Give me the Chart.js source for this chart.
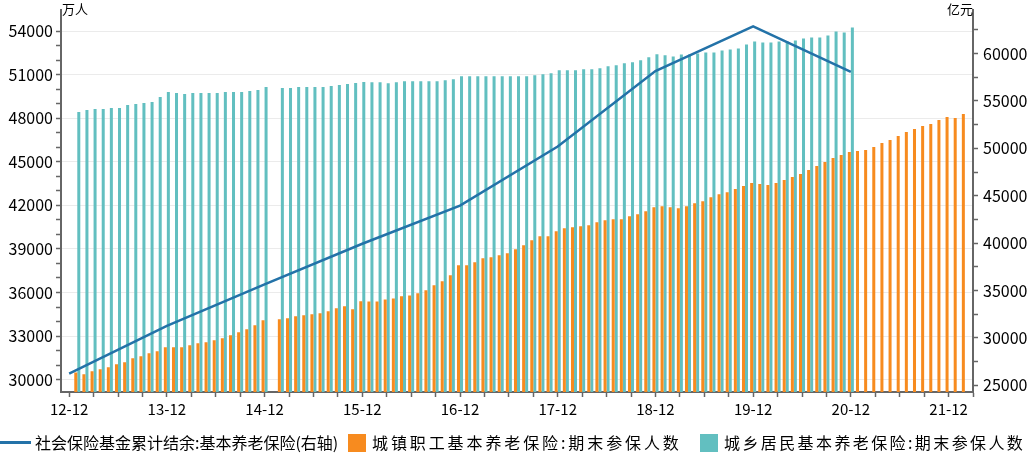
<!DOCTYPE html>
<html>
<head>
<meta charset="utf-8">
<script src="https://cdn.jsdelivr.net/npm/chart.js@4.4.1/dist/chart.umd.min.js"></script>
<style>
  html, body { margin: 0; padding: 0; background: #fff; }
  #wrap { position: relative; width: 1034px; height: 458px; font-family: "Noto Sans CJK SC", "Noto Sans", sans-serif; color: #000; }
  #chart { position: absolute; left: 0; top: 0; }
  .unit { position: absolute; top: 1px; font-size: 13px; line-height: 16px; }
  .item { position: absolute; top: 432px; font-size: 16px; line-height: 20px; white-space: nowrap; }
  .swatch { position: absolute; top: 434px; width: 18px; height: 18px; }
</style>
</head>
<body>
<div id="wrap">
  <canvas id="chart" width="1034" height="458"></canvas>
  <div class="unit" style="left:62px">万人</div>
  <div class="unit" style="left:947px">亿元</div>

  <div style="position:absolute; left:0; top:441px; width:31px; height:2.5px; background:#2372a8"></div>
  <div class="item" style="left:35px">社会保险基金累计结余:基本养老保险(右轴)</div>
  <div class="swatch" style="left:348px; background:#f78b1f"></div>
  <div class="item" style="left:372px; letter-spacing:2.9px">城镇职工基本养老保险:期末参保人数</div>
  <div class="swatch" style="left:700px; background:#62bfc0"></div>
  <div class="item" style="left:724px; letter-spacing:2.4px">城乡居民基本养老保险:期末参保人数</div>
</div>

<script>
// month axis runs 12-11 .. 22-03, bars start at 13-01
const firstMonth = [2012, 11];
const lastMonth = [2022, 3];
const seriesStart = '13-01';

// 社会保险基金累计结余:基本养老保险 (亿元, right axis), year-end points
const fundMonths = ['12-12', '13-12', '14-12', '15-12', '16-12', '17-12', '18-12', '19-12', '20-12'];
const fundBalance = [26243, 31275, 35645, 39937, 43965, 50202, 58152, 62873, 58075];

// 城镇职工基本养老保险:期末参保人数 (万人), monthly from 13-01, null = no data
const staffMembers = [
  30488, 30371, 30577, 30715, 30852, 31059, 31197, 31472, 31610, 31816, 31954, 32229, // 2013
  32229, 32229, 32367, 32505, 32573, 32711, 32849, 33055, 33262, 33468, 33743, 34087, // 2014
  null, 34156, 34225, 34362, 34431, 34500, 34569, 34707, 34913, 35051, 34844, 35390,  // 2015
  35385, 35385, 35525, 35595, 35735, 35800, 35957, 36163, 36508, 36783, 37196, 37884, // 2016
  37884, 38091, 38366, 38435, 38573, 38710, 38986, 39261, 39605, 39880, 39880, 40224, // 2017
  40431, 40500, 40569, 40637, 40844, 40981, 41050, 41050, 41257, 41394, 41601, 41876, // 2018
  41945, 41876, 41807, 41945, 42151, 42289, 42564, 42771, 42908, 43125, 43331, 43547, // 2019
  43478, 43409, 43547, 43753, 43960, 44166, 44441, 44717, 44992, 45268, 45474, 45681, // 2020
  45750, 45819, 46025, 46300, 46507, 46782, 47057, 47264, 47470, 47608, 47883, 48089, // 2021
  48020, 48296                                                                        // 2022
];

// 城乡居民基本养老保险:期末参保人数 (万人), monthly from 13-01
const residentMembers = [
  48434, 48571, 48640, 48640, 48709, 48709, 48915, 48984, 49053, 49122, 49466, 49810, // 2013
  49741, 49672, 49741, 49741, 49741, 49741, 49810, 49810, 49810, 49879, 49948, 50154, // 2014
  null, 50085, 50085, 50154, 50154, 50154, 50154, 50223, 50292, 50361, 50429, 50490,  // 2015
  50484, 50484, 50415, 50484, 50553, 50553, 50553, 50553, 50553, 50622, 50690, 50897, // 2016
  50897, 50897, 50897, 50897, 50897, 50897, 50897, 50897, 50966, 51034, 51103, 51310, // 2017
  51310, 51310, 51379, 51379, 51447, 51585, 51654, 51791, 51860, 51998, 52204, 52411, // 2018
  52330, 52245, 52383, 52383, 52451, 52520, 52520, 52658, 52727, 52796, 53071, 53277, // 2019
  53208, 53208, 53277, 53277, 53346, 53484, 53553, 53553, 53690, 53965, 53897, 54241  // 2020
];

const leftRange = [29150, 55450];
const rightRange = [24300, 64600];

// build month labels
const labels = [];
for (let y = firstMonth[0]; y <= lastMonth[0]; y++) {
  for (let m = 1; m <= 12; m++) {
    if (y === firstMonth[0] && m < firstMonth[1]) continue;
    if (y === lastMonth[0] && m > lastMonth[1]) continue;
    labels.push(String(y).slice(2) + '-' + String(m).padStart(2, '0'));
  }
}

function alignSeries(values) {
  const start = labels.indexOf(seriesStart);
  return labels.map((l, i) => {
    const v = values[i - start];
    return v === undefined ? null : v;
  });
}

const fundData = labels.map(l => {
  const k = fundMonths.indexOf(l);
  return k < 0 ? null : fundBalance[k];
});

const leftTicks = [];
for (let v = 30000; v <= 54000; v += 1000) leftTicks.push(v);
const rightTicks = [];
for (let v = 25000; v <= 62500; v += 2500) rightTicks.push(v);

Chart.defaults.font.family = '"Noto Sans CJK SC", "Noto Sans", sans-serif';
Chart.defaults.color = '#000';

const axisColor = '#666';

// fixed side width, no extra label padding at top/bottom
function fitSide(s) {
  s.width = 61;
  s.paddingTop = 0;
  s.paddingBottom = 0;
}

new Chart(document.getElementById('chart'), {
  type: 'bar',
  data: {
    labels: labels,
    datasets: [
      {
        type: 'line',
        label: '社会保险基金累计结余:基本养老保险(右轴)',
        data: fundData,
        yAxisID: 'y1',
        borderColor: '#2372a8',
        borderWidth: 2.5,
        pointRadius: 0,
        spanGaps: true,
        tension: 0,
        order: 0
      },
      {
        label: '城镇职工基本养老保险:期末参保人数',
        data: alignSeries(staffMembers),
        yAxisID: 'y',
        backgroundColor: '#f78b1f',
        barPercentage: 1,
        categoryPercentage: 0.74,
        order: 1
      },
      {
        label: '城乡居民基本养老保险:期末参保人数',
        data: alignSeries(residentMembers),
        yAxisID: 'y',
        backgroundColor: '#62bfc0',
        barPercentage: 1,
        categoryPercentage: 0.74,
        order: 1
      }
    ]
  },
  options: {
    responsive: false,
    animation: false,
    layout: { padding: { top: 10, bottom: 36, left: 0, right: 0 } },
    plugins: {
      legend: { display: false },
      tooltip: { enabled: false }
    },
    scales: {
      x: {
        type: 'category',
        offset: false,
        grid: {
          offset: false,
          drawOnChartArea: false,
          tickLength: 5,
          tickWidth: 1.5,
          tickColor: ctx => {
            const l = labels[ctx.index] || '';
            return ['03', '06', '09', '12'].includes(l.slice(3)) ? axisColor : 'rgba(0,0,0,0)';
          }
        },
        border: { color: axisColor, width: 2 },
        ticks: {
          autoSkip: false,
          maxRotation: 0,
          minRotation: 0,
          padding: 3,
          font: { size: 15 },
          callback: (v, i) => (labels[i].endsWith('-12') ? labels[i] : '')
        },
        afterFit: s => {
          s.height = 30;
          s.paddingLeft = 0;
          s.paddingRight = 0;
        }
      },
      y: {
        position: 'left',
        min: leftRange[0],
        max: leftRange[1],
        afterBuildTicks: s => { s.ticks = leftTicks.map(v => ({ value: v })); },
        grid: {
          color: ctx => (ctx.tick && ctx.tick.value % 3000 === 0 ? '#ebebeb' : 'rgba(0,0,0,0)'),
          lineWidth: 1,
          tickColor: axisColor,
          tickLength: 5,
          tickWidth: 1.5
        },
        border: { color: axisColor, width: 2 },
        ticks: {
          autoSkip: false,
          padding: 3,
          font: { size: 16 },
          callback: v => (v % 3000 === 0 ? String(v) : '')
        },
        afterFit: fitSide
      },
      y1: {
        position: 'right',
        min: rightRange[0],
        max: rightRange[1],
        afterBuildTicks: s => { s.ticks = rightTicks.map(v => ({ value: v })); },
        grid: {
          drawOnChartArea: false,
          tickColor: axisColor,
          tickLength: 5,
          tickWidth: 1.5
        },
        border: { color: axisColor, width: 2 },
        ticks: {
          autoSkip: false,
          padding: 5,
          font: { size: 16 },
          callback: v => (v % 5000 === 0 ? String(v) : '')
        },
        afterFit: fitSide
      }
    }
  }
});
</script>
</body>
</html>
